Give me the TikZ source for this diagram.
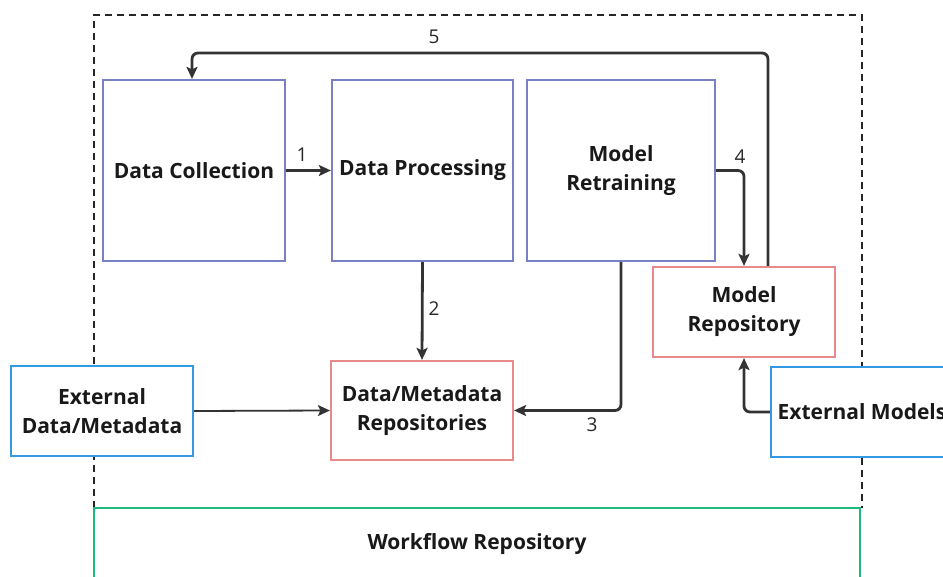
\documentclass[tikz,border=0pt]{standalone}
\usepackage{fontspec}
\setmainfont{Open Sans}
\usetikzlibrary{arrows.meta}
\definecolor{purp}{HTML}{7A80C4}
\definecolor{redb}{HTML}{E88A8A}
\definecolor{blueb}{HTML}{3399E0}
\definecolor{greenb}{HTML}{1DBA7C}
\definecolor{arrc}{HTML}{333333}
\tikzset{
  box/.style={draw, line width=2.2pt, fill=white, align=center, font=\fontsize{21}{29}\selectfont\bfseries, text=black!90},
  procbox/.style={box, draw=purp},
  repobox/.style={box, draw=redb},
  extbox/.style={box, draw=blueb},
  arr/.style={draw=arrc, line width=2.8pt, rounded corners=6pt, -{Stealth[length=12pt,width=11pt,inset=2.5pt]}},
  thinarr/.style={arr, line width=1.8pt},
  num/.style={font=\fontsize{19}{22}\selectfont, text=black!85},
}
\begin{document}
\begin{tikzpicture}[x=1pt,y=-1pt]
\useasboundingbox (0,0) rectangle (943,577);
% dashed frame
\draw[line width=1.4pt, dash pattern=on 7pt off 5pt, black!85] (94,508) -- (94,15) -- (862,15) -- (862,508);
% workflow
\node[draw=greenb, line width=2.8pt, fill=white, minimum width=766pt, minimum height=72pt, font=\fontsize{21}{29}\selectfont\bfseries, text=black!90] (wf) at (477,544) {Workflow Repository};
% nodes
\node[procbox, minimum width=182pt, minimum height=181pt] (dc) at (194,170.5) {Data Collection};
\node[procbox, minimum width=181pt, minimum height=181pt] (dp) at (422.5,170.5) {Data Processing};
\node[procbox, minimum width=188pt, minimum height=181pt] (mr) at (621,170.5) {Model\\Retraining};
\node[repobox, minimum width=182pt, minimum height=90pt] (mrep) at (744,312) {Model\\Repository};
\node[repobox, minimum width=182pt, minimum height=99pt] (dm) at (422,410.5) {Data/Metadata\\Repositories};
\node[extbox, minimum width=182pt, minimum height=90pt] (ed) at (102,411) {External\\Data/Metadata};
\node[extbox, minimum width=182pt, minimum height=90pt] (em) at (862,412) {External Models};
% connectors
\coordinate (c5) at (480,53);
\draw[arr] (dc.east) -- (dp.west);
\draw[arr] (dp.south) -- (dm.north);
\draw[arr] (mr.south) |- (dm.east);
\draw[arr] (mr.east) -| (mrep.north);
\draw[arr] ([xshift=24pt]mrep.north) |- (c5) -| ([xshift=-2pt]dc.north);
\draw[thinarr] (ed.east) -- (dm.west);
\draw[arr] (em.west) -| (mrep.south);
% labels
\node[num] (l1) at (302,155) {1};
\node[num] (l2) at (434,309) {2};
\node[num] (l3) at (592,425) {3};
\node[num] (l4) at (740,157) {4};
\node[num] (l5) at (434,37) {5};
\end{tikzpicture}
\end{document}
